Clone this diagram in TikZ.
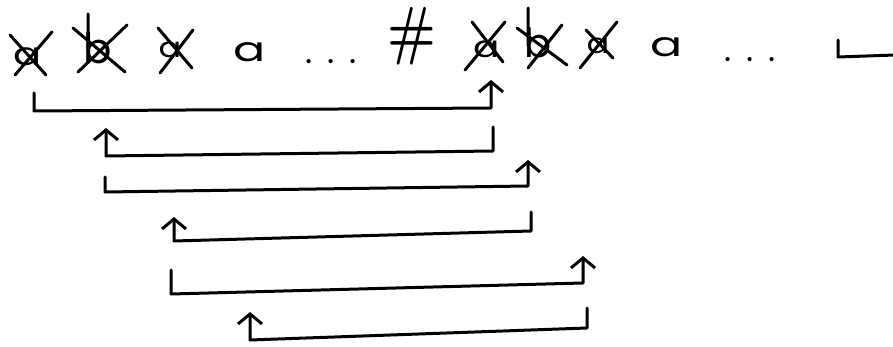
\documentclass[tikz,border=0pt]{standalone}
\usepackage{fontspec}
\newfontfamily\hand{Poppins}
\usetikzlibrary{arrows.meta}
\tikzset{
  ink/.style={line width=3pt, line cap=round, line join=round},
  sym/.style={inner sep=0pt, anchor=base, font=\hand},
  bracket/.style={ink, -{Straight Barb[length=10pt,width=24pt,line width=3pt]}},
}
\begin{document}
\begin{tikzpicture}[x=1pt,y=-1pt]
\useasboundingbox (0,0) rectangle (893,347);
% tape symbols
\node[sym, xscale=1.3, font=\hand\fontsize{32}{32}\selectfont] (s1) at (28,66) {a};
\node[sym, font=\hand\fontsize{42}{42}\selectfont] (s2) at (98,64) {b};
\node[sym, xscale=1.2, font=\hand\fontsize{28}{28}\selectfont] (s3) at (170,58) {a};
\node[sym, xscale=1.4, font=\hand\fontsize{34}{34}\selectfont] (s4) at (250,62) {a};
\node[sym, font=\hand\fontsize{34}{34}\selectfont] (s5) at (331,64) {.\hspace{15pt}.\hspace{15pt}.};
\node[sym, xscale=0.8, font=\bfseries\fontsize{65}{65}\selectfont] (s6) at (412,53) {\#};
\node[sym, xscale=1.3, font=\hand\fontsize{30}{30}\selectfont] (s7) at (487,58) {a};
\node[sym, font=\hand\fontsize{40}{40}\selectfont] (s8) at (538,58) {b};
\node[sym, xscale=1.2, font=\hand\fontsize{28}{28}\selectfont] (s9) at (598,54) {a};
\node[sym, xscale=1.4, font=\hand\fontsize{34}{34}\selectfont] (s10) at (667,57) {a};
\node[sym, font=\hand\fontsize{34}{34}\selectfont] (s11) at (750,62) {.\hspace{15pt}.\hspace{15pt}.};
% blank symbol at the right edge
\draw[ink] (838,40) -- (838,57) -- (895,55);
% cross-outs
\draw[ink] (10,35) -- (46,75) (52,32) -- (15,75);
\draw[ink] (88,14) -- (88,50) (73,28) -- (125,72) (127,25) -- (78,72);
\draw[ink] (158,28) -- (192,68) (193,30) -- (160,73);
\draw[ink] (472,22) -- (503,62) (505,22) -- (465,70);
\draw[ink] (528,8) -- (528,46) (517,28) -- (567,65) (562,25) -- (528,68);
\draw[ink] (586,30) -- (613,58) (617,22) -- (580,68);
% bracket corners
\coordinate (b1s) at (34,93);  \coordinate (b1l) at (34,111); \coordinate (b1r) at (491,108); \coordinate (b1e) at (491,80);
\coordinate (b2s) at (493,127); \coordinate (b2r) at (493,151); \coordinate (b2l) at (106,156); \coordinate (b2e) at (106,128);
\coordinate (b3s) at (105,177); \coordinate (b3l) at (105,192); \coordinate (b3r) at (528,186); \coordinate (b3e) at (528,160);
\coordinate (b4s) at (531,212); \coordinate (b4r) at (531,231); \coordinate (b4l) at (174,241); \coordinate (b4e) at (174,217);
\coordinate (b5s) at (171,270); \coordinate (b5l) at (171,294); \coordinate (b5r) at (583,283); \coordinate (b5e) at (583,256);
\coordinate (b6s) at (587,308); \coordinate (b6r) at (587,328); \coordinate (b6l) at (250,340); \coordinate (b6e) at (250,312);
% brackets
\draw[bracket] (b1s) -- (b1l) -- (b1r) -- (b1e);
\draw[bracket] (b2s) -- (b2r) -- (b2l) -- (b2e);
\draw[bracket] (b3s) -- (b3l) -- (b3r) -- (b3e);
\draw[bracket] (b4s) -- (b4r) -- (b4l) -- (b4e);
\draw[bracket] (b5s) -- (b5l) -- (b5r) -- (b5e);
\draw[bracket] (b6s) -- (b6r) -- (b6l) -- (b6e);
\end{tikzpicture}
\end{document}
